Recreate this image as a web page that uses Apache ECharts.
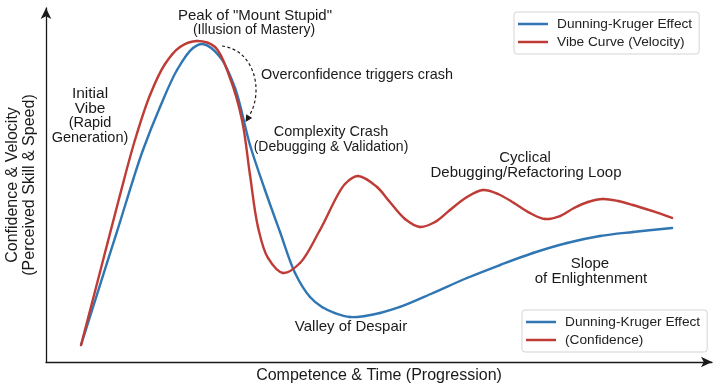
<!DOCTYPE html>
<html>
<head>
<meta charset="utf-8">
<script src="https://cdn.jsdelivr.net/npm/echarts@6/dist/echarts.min.js"></script>
<style>html,body{margin:0;padding:0;background:#fff}#c{width:715px;height:389px}</style>
</head>
<body>
<div id="c"></div>
<script>
// Vibe Curve (Velocity): progression (x) and value (y), both on 0-100 scales
const vibeX = [5.26, 8.11, 11.11, 13.36, 15.62, 17.87, 20.12, 22.67, 25.38, 27.63, 29.43, 30.63, 31.83, 33.33, 35.59, 38.14, 41.14, 44.89, 46.85, 49.70, 51.50, 53.90, 56.16, 58.41, 60.66, 63.21, 65.62, 67.87, 70.27, 72.67, 74.92, 77.18, 79.28, 81.38, 83.63, 85.89, 88.14, 90.99, 94.00];
const vibeY = [4.80, 25.42, 47.18, 62.71, 75.42, 84.18, 88.98, 90.68, 88.98, 80.23, 68.36, 52.82, 38.14, 29.38, 25.14, 27.97, 37.29, 50.28, 52.54, 49.44, 45.48, 40.40, 38.14, 39.55, 42.94, 46.61, 48.59, 47.46, 44.92, 42.09, 40.40, 41.24, 43.50, 45.20, 46.05, 45.48, 44.35, 42.66, 40.68];
// Dunning-Kruger Effect (Confidence)
const dkX = [5.26, 9.16, 11.11, 13.06, 14.56, 17.12, 19.67, 22.07, 23.57, 26.13, 28.38, 30.63, 32.88, 35.14, 37.39, 39.64, 41.44, 43.39, 45.65, 47.90, 50.15, 53.15, 58.11, 63.21, 68.17, 73.12, 78.23, 83.18, 88.14, 94.00];
const dkY = [4.80, 27.97, 39.55, 51.41, 59.89, 72.03, 82.49, 88.70, 89.83, 86.16, 77.40, 61.30, 48.59, 36.72, 25.14, 18.36, 15.54, 13.84, 12.71, 12.99, 13.84, 15.54, 19.49, 23.73, 27.40, 30.79, 33.62, 35.59, 36.72, 37.85];

const seriesNames = ['Dunning-Kruger Effect', 'Vibe Curve (Velocity)', '(Confidence)'];
const legendTop = ['Dunning-Kruger Effect', 'Vibe Curve (Velocity)'];
const legendBottom = ['Dunning-Kruger Effect', '(Confidence)'];
const xAxisTitle = 'Competence & Time (Progression)';
const yAxisTitle = 'Confidence & Velocity\n(Perceived Skill & Speed)';

const BLUE = '#2f76b2';
const RED = '#bf3b36';
const FONT = '"Liberation Sans", Arial, sans-serif';

const pairs = (xs, ys) => xs.map((x, i) => [x, ys[i]]);

// Centripetal Catmull-Rom through the axis-mapped points -> cubic bezier segments
function smoothCurve(xs, ys, color) {
  return function (params, api) {
    if (params.dataIndex !== 0) return null;
    const P = xs.map((x, i) => api.coord([x, ys[i]]));
    const n = P.length;
    const children = [];
    const dist = (a, b) => Math.pow(Math.hypot(b[0] - a[0], b[1] - a[1]), 0.5);
    for (let i = 0; i < n - 1; i++) {
      const p0 = P[Math.max(i - 1, 0)], p1 = P[i], p2 = P[i + 1], p3 = P[Math.min(i + 2, n - 1)];
      const d1 = dist(p0, p1), d2 = dist(p1, p2), d3 = dist(p2, p3);
      let b1, b2;
      if (d1 < 1e-6) b1 = p1.slice();
      else b1 = [0, 1].map(k => (d1 * d1 * p2[k] - d2 * d2 * p0[k] + (2 * d1 * d1 + 3 * d1 * d2 + d2 * d2) * p1[k]) / (3 * d1 * (d1 + d2)));
      if (d3 < 1e-6) b2 = p2.slice();
      else b2 = [0, 1].map(k => (d3 * d3 * p1[k] - d2 * d2 * p3[k] + (2 * d3 * d3 + 3 * d3 * d2 + d2 * d2) * p2[k]) / (3 * d3 * (d3 + d2)));
      children.push({
        type: 'bezierCurve',
        shape: {x1: p1[0], y1: p1[1], cpx1: b1[0], cpy1: b1[1], cpx2: b2[0], cpy2: b2[1], x2: p2[0], y2: p2[1]},
        style: {stroke: color, lineWidth: 2.4, fill: null, lineCap: 'round', lineJoin: 'round'}
      });
    }
    return {type: 'group', children: children};
  };
}

const chart = echarts.init(document.getElementById('c'), null, {renderer: 'canvas'});

function legendCfg(data, left, top) {
  return {
    data: data, orient: 'vertical', left: left, top: top,
    icon: 'rect', itemWidth: 30, itemHeight: 2.5, itemGap: 4,
    padding: [5, 7, 5, 4],
    backgroundColor: '#fff', borderColor: '#d4d4d4', borderWidth: 1, borderRadius: 3,
    textStyle: {fontSize: 13.7, fontFamily: FONT, color: '#222', padding: [0, 0, 0, 4]},
    selectedMode: false
  };
}

function txt(text, x, y, size) {
  return {type: 'text', z: 100, style: {text: text, x: x, y: y, font: size + 'px ' + FONT, fill: '#1a1a1a', align: 'center', verticalAlign: 'middle'}};
}

const option = {
  backgroundColor: '#fff',
  animation: false,
  grid: {left: 46, right: 3, top: 8, bottom: 27, containLabel: false, outerBoundsMode: 'none'},
  xAxis: {
    type: 'value', min: 0, max: 100,
    name: xAxisTitle, nameLocation: 'middle', nameGap: 6,
    nameTextStyle: {fontSize: 16, fontFamily: FONT, color: '#1a1a1a', verticalAlign: 'top'},
    axisLine: {show: true, symbol: ['none', 'arrow'], symbolSize: [8, 11], lineStyle: {color: '#1a1a1a', width: 1.3}},
    axisTick: {show: false}, axisLabel: {show: false}, splitLine: {show: false}
  },
  yAxis: {
    type: 'value', min: 0, max: 100,
    name: yAxisTitle, nameLocation: 'middle', nameGap: 8,
    nameTextStyle: {fontSize: 16, fontFamily: FONT, color: '#1a1a1a', lineHeight: 17},
    axisLine: {show: true, symbol: ['none', 'arrow'], symbolSize: [8, 11], lineStyle: {color: '#1a1a1a', width: 1.3}},
    axisTick: {show: false}, axisLabel: {show: false}, splitLine: {show: false}
  },
  legend: [legendCfg(legendTop, 514, 12), legendCfg(legendBottom, 522, 310)],
  series: [
    {name: seriesNames[0], type: 'custom', data: pairs(dkX, dkY), encode: {x: 0, y: 1}, renderItem: smoothCurve(dkX, dkY, BLUE), itemStyle: {color: BLUE}, z: 2},
    {name: seriesNames[1], type: 'custom', data: pairs(vibeX, vibeY), encode: {x: 0, y: 1}, renderItem: smoothCurve(vibeX, vibeY, RED), itemStyle: {color: RED}, z: 3},
    {name: seriesNames[2], type: 'line', data: [], symbol: 'none', color: RED, lineStyle: {width: 2.4, color: RED}}
  ],
  graphic: [
    txt('Peak of "Mount Stupid"', 255, 16, 15),
    txt('(Illusion of Mastery)', 254, 30, 14),
    txt('Initial', 90, 94, 15.5),
    txt('Vibe', 90, 109, 15.5),
    txt('(Rapid', 90, 123, 14.5),
    txt('Generation)', 90, 138, 14.5),
    {type: 'text', z: 100, style: {text: 'Overconfidence triggers crash', x: 261, y: 75, font: '14.4px ' + FONT, fill: '#1a1a1a', align: 'left', verticalAlign: 'middle'}},
    txt('Complexity Crash', 331, 132, 14.5),
    txt('(Debugging & Validation)', 331, 147, 14),
    txt('Cyclical', 525, 158, 15),
    txt('Debugging/Refactoring Loop', 526, 173, 15),
    txt('Slope', 590, 264, 15),
    txt('of Enlightenment', 591, 279, 15),
    txt('Valley of Despair', 351, 327, 15),
    {type: 'bezierCurve', z: 100, shape: {x1: 222, y1: 46, cpx1: 255, cpy1: 50, cpx2: 264, cpy2: 92, x2: 249, y2: 116},
     style: {stroke: '#1a1a1a', lineWidth: 1.2, lineDash: [3, 2.5], fill: null}},
    {type: 'polygon', z: 100, shape: {points: [[245.5, 122], [252.2, 117.9], [246.2, 114.2]]}, style: {fill: '#1a1a1a'}}
  ]
};
chart.setOption(option);
</script>
</body>
</html>
